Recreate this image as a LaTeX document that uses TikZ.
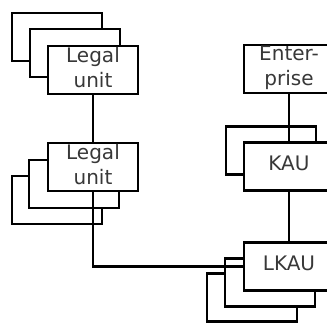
\documentclass[tikz,border=0pt]{standalone}
\usepackage{fontspec}
\newfontfamily\boxfont{DejaVu Sans}
\usepackage{tikz}
\usetikzlibrary{calc}

\begin{document}
\begin{tikzpicture}[x=1pt,y=-1pt,line width=2.5pt,
  box/.style={draw,fill=white,minimum width=90pt,minimum height=48pt,inner sep=0pt,align=center,
    text=black!78,text depth=6pt,font=\boxfont\fontsize{20}{25}\selectfont}]
\useasboundingbox (0,0) rectangle (327,322);
\clip (0,0) rectangle (327,322);
\coordinate (L1) at (93,70);
\coordinate (L2) at (93,167);
\coordinate (E) at (289,69);
\coordinate (K) at (289,166.7);
\coordinate (LK) at (289,266.7);
\foreach \c/\dx/\dy in {L1/-36/-33,L1/-18/-17,L2/-36/33,L2/-19/17,K/-18/-16,LK/-37/31,LK/-19/16} {
\node[box] at ($(\c)+(\dx,\dy)$) {};}
\node[box] (lu1) at (L1) {Legal\\unit};
\node[box] (lu2) at (L2) {Legal\\unit};
\node[box] (ent) at (E) {Enter-\\prise};
\node[box] (kau) at (K) {KAU};
\node[box] (lkau) at (LK) {LKAU};
\draw (lu1)--(lu2);
\draw (ent)--(kau);
\draw (kau)--(lkau);
\draw (lu2.south)|-(lkau.west);
\end{tikzpicture}
\end{document}
